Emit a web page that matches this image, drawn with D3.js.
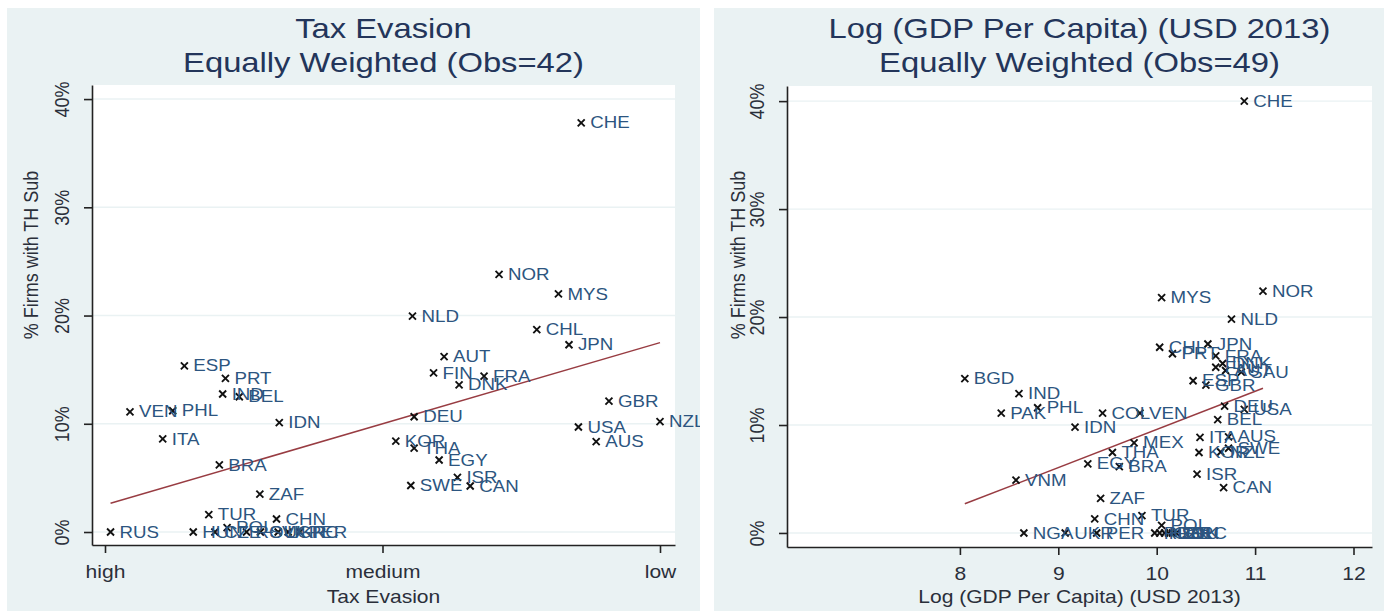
<!DOCTYPE html>
<html><head><meta charset="utf-8">
<script src="https://cdn.jsdelivr.net/npm/d3@7"></script>
<style>
html,body{margin:0;padding:0;background:#fff;}
svg{display:block;font-family:"Liberation Sans",Arial,sans-serif;}
</style></head>
<body>
<svg id="c" width="1389" height="611"></svg>
<script>
// ---------------- DATA ----------------
// Left panel: Tax Evasion score (0 = high, 50 = medium, 100 = low)
const leftCodes = ["CHE","NOR","MYS","NLD","CHL","JPN","AUT","FIN","FRA","DNK","GBR","DEU","NZL","USA","AUS","KOR","THA","EGY","ISR","SWE","CAN","ESP","PRT","IND","BEL","VEN","PHL","IDN","ITA","BRA","ZAF","TUR","CHN","RUS","HUN","CZE","POL","ROU","SVK","UKR","GRC","PER"];
const leftEvasion = [85.8,71.0,81.7,55.4,77.8,83.6,61.1,59.2,68.3,63.8,90.8,55.7,100,85.3,88.5,52.4,55.7,60.2,63.5,55.1,65.8,14.3,21.7,21.2,24.2,4.5,12.2,31.4,10.4,20.6,27.9,18.7,30.9,1.0,15.9,19.8,22.0,25.5,28.0,31.2,33.0,35.1];
const leftShare = [37.8,23.8,22.0,19.95,18.7,17.3,16.2,14.7,14.4,13.6,12.1,10.65,10.2,9.7,8.35,8.4,7.75,6.65,5.05,4.3,4.25,15.35,14.2,12.75,12.5,11.1,11.2,10.1,8.6,6.2,3.5,1.6,1.2,0,0,0,0.4,0,0,0,0,0];
const leftFitX = [1.0, 100];
const leftFitY = [2.65, 17.5];
const leftTickValues = [0, 50, 100];
const leftTickLabels = ["high", "medium", "low"];

// Right panel: Log GDP per capita (USD 2013)
const rightCodes = ["CHE","NOR","MYS","NLD","CHL","PRT","JPN","FRA","FIN","DNK","AUT","SAU","ESP","GBR","BGD","IND","PAK","PHL","COL","VEN","IDN","DEU","USA","BEL","ITA","AUS","KOR","SWE","NZL","MEX","THA","EGY","BRA","VNM","ISR","CAN","ZAF","CHN","TUR","POL","NGA","UKR","PER","RUS","HUN","CZE","ROU","SVK","GRC"];
const rightLogGdp = [10.89,11.08,10.05,10.76,10.03,10.16,10.52,10.60,10.60,10.67,10.70,10.86,10.37,10.50,8.05,8.60,8.42,8.79,9.45,9.83,9.17,10.69,10.89,10.62,10.44,10.73,10.43,10.73,10.65,9.77,9.55,9.30,9.62,8.57,10.41,10.68,9.43,9.37,9.85,10.05,8.65,9.07,9.39,9.98,10.03,10.08,10.12,10.16,10.20];
const rightShare = [40.0,22.4,21.8,19.8,17.2,16.6,17.5,16.4,15.35,15.7,15.05,14.9,14.1,13.7,14.3,12.9,11.1,11.6,11.1,11.1,9.8,11.75,11.45,10.5,8.85,8.9,7.45,7.85,7.5,8.35,7.45,6.4,6.15,4.9,5.45,4.2,3.2,1.3,1.6,0.7,0,0,0,0,0,0,0,0,0];
const rightFitX = [8.05, 11.08];
const rightFitY = [2.7, 13.4];
const rightTickValues = [8, 9, 10, 11, 12];

const yTickValues = [0, 10, 20, 30, 40];

// ---------------- STYLE ----------------
const SX = 1.17;            // horizontal text stretch of the original
const BG = "#eaf2f3";
const LABEL = "#2c5580";
const TITLE = "#23355a";
const TICK = "#2a2f3a";
const FIT = "#983c42";

const svg = d3.select("#c");
const defs = svg.append("defs");

function stretchText(g, x, y, str, o) {
  o = o || {};
  let tr = `translate(${x},${y}) scale(${SX},1)`;
  if (o.rotate) tr += " rotate(-90)";
  return g.append("text")
    .attr("transform", tr)
    .attr("text-anchor", o.anchor || "middle")
    .attr("dy", o.dy || "0.35em")
    .attr("font-size", o.size || 18)
    .attr("fill", o.fill || TICK)
    .text(str);
}

function panel(cfg) {
  const clipId = "clip" + cfg.bx0;
  defs.append("clipPath").attr("id", clipId).append("rect")
    .attr("x", cfg.bx0).attr("y", 8).attr("width", cfg.bx1 - cfg.bx0).attr("height", 611 - 8);
  const g = svg.append("g").attr("clip-path", `url(#${clipId})`);
  // graph region
  g.append("rect").attr("x", cfg.bx0).attr("y", 8).attr("width", cfg.bx1 - cfg.bx0).attr("height", 611 - 8).attr("fill", BG);
  // plot region
  g.append("rect").attr("x", cfg.px0).attr("y", cfg.py0).attr("width", cfg.px1 - cfg.px0).attr("height", cfg.py1 - cfg.py0).attr("fill", "#fff");

  const x = d3.scaleLinear().domain(cfg.xDomain).range([cfg.px0, cfg.px1]);
  const y = d3.scaleLinear().domain(cfg.yDomain).range([cfg.py1, cfg.py0]);

  // gridlines
  g.append("g").selectAll("line").data(yTickValues).join("line")
    .attr("x1", cfg.px0 + 1).attr("x2", cfg.px1)
    .attr("y1", d => y(d)).attr("y2", d => y(d))
    .attr("stroke", BG).attr("stroke-width", 1.4);

  // fit line
  g.append("line")
    .attr("x1", x(cfg.fitX[0])).attr("y1", y(cfg.fitY[0]))
    .attr("x2", x(cfg.fitX[1])).attr("y2", y(cfg.fitY[1]))
    .attr("stroke", FIT).attr("stroke-width", 1.5);

  // points
  const pts = cfg.codes.map((c, i) => ({c, xv: cfg.xs[i], yv: cfg.ys[i]}));
  const m = 3.5;
  const pg = g.append("g").selectAll("g").data(pts).join("g")
    .attr("transform", d => `translate(${x(d.xv)},${y(d.yv)})`);
  pg.append("path").attr("d", `M${-m},${-m}L${m},${m}M${-m},${m}L${m},${-m}`)
    .attr("stroke", "#111").attr("stroke-width", 1.9).attr("fill", "none");
  pts.forEach(d => {
    stretchText(g, x(d.xv) + 9, y(d.yv), d.c, {anchor: "start", size: 16, fill: LABEL});
  });

  // axes
  const ya = d3.axisLeft(y).tickValues(yTickValues).tickSize(8).tickSizeOuter(0).tickFormat(d => d + "%");
  const yg = g.append("g").attr("transform", `translate(${cfg.px0},0)`).call(ya);
  yg.select(".domain").attr("stroke", "#222").attr("stroke-width", 1.6);
  yg.selectAll(".tick line").attr("stroke", "#222").attr("stroke-width", 1.6);
  yg.selectAll(".tick text")
    .attr("x", null).attr("y", null).attr("dy", "0.35em")
    .attr("transform", `translate(-30,0) scale(${SX},1) rotate(-90)`)
    .attr("text-anchor", "middle").attr("font-size", 18).attr("fill", TICK)
    .attr("font-family", "Liberation Sans, Arial, sans-serif");

  const xa = d3.axisBottom(x).tickValues(cfg.xTicks).tickSize(8).tickSizeOuter(0).tickFormat(cfg.xFormat);
  const xg = g.append("g").attr("transform", `translate(0,${cfg.py1})`).call(xa);
  xg.select(".domain").attr("stroke", "#222").attr("stroke-width", 1.6);
  xg.selectAll(".tick line").attr("stroke", "#222").attr("stroke-width", 1.6);
  xg.selectAll(".tick text")
    .attr("x", null).attr("y", null).attr("dy", "0.35em")
    .attr("transform", `translate(0,27) scale(${SX},1)`)
    .attr("font-size", 18).attr("fill", TICK)
    .attr("font-family", "Liberation Sans, Arial, sans-serif");

  // titles
  const cx = (cfg.px0 + cfg.px1) / 2;
  stretchText(g, cx, 28, cfg.title1, {size: 28, fill: TITLE});
  stretchText(g, cx, 62, cfg.title2, {size: 28, fill: TITLE});
  stretchText(g, cx, 597, cfg.xTitle, {size: 18, fill: TICK});
  stretchText(g, cfg.bx0 + 24, 255, "% Firms with TH Sub", {size: 18, fill: TICK, rotate: true});
}

panel({
  bx0: 7, bx1: 700, px0: 92, px1: 675, py0: 85, py1: 545,
  xDomain: [(92 - 105) / 5.55, (675 - 105) / 5.55], yDomain: [-1.2, 41.3],
  codes: leftCodes, xs: leftEvasion, ys: leftShare,
  fitX: leftFitX, fitY: leftFitY,
  xTicks: leftTickValues, xFormat: (d, i) => leftTickLabels[i],
  title1: "Tax Evasion", title2: "Equally Weighted (Obs=42)", xTitle: "Tax Evasion"
});

panel({
  bx0: 714, bx1: 1384, px0: 787, px1: 1372, py0: 86, py1: 547,
  xDomain: [10 + (787 - 1156.7) / 98.4, 10 + (1372 - 1156.7) / 98.4], yDomain: [-1.3, 41.4],
  codes: rightCodes, xs: rightLogGdp, ys: rightShare,
  fitX: rightFitX, fitY: rightFitY,
  xTicks: rightTickValues, xFormat: d => d,
  title1: "Log (GDP Per Capita) (USD 2013)", title2: "Equally Weighted (Obs=49)", xTitle: "Log (GDP Per Capita) (USD 2013)"
});
</script>
</body></html>
